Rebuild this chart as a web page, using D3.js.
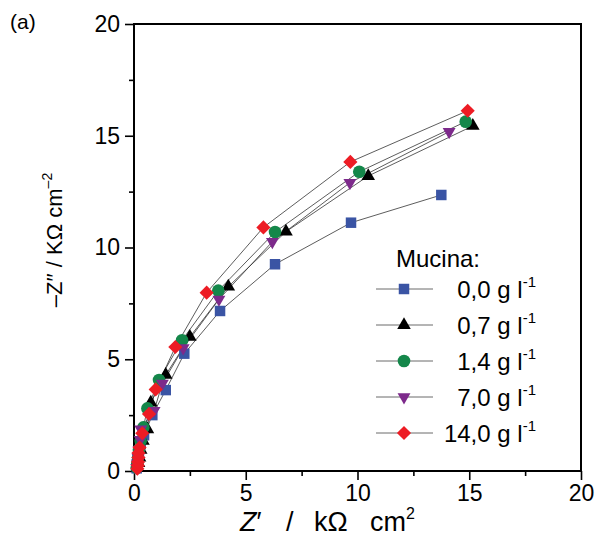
<!DOCTYPE html>
<html>
  <head>
    <meta charset="utf-8">
    <title>Mucina Nyquist</title>
    <script src="https://d3js.org/d3.v7.min.js"></script>
    <style>
      body { margin: 0; background: #fff; }
      svg { font-family: Arial, "Liberation Sans", sans-serif; }
      .tick text { font-size: 23px; }
    </style>
  </head>
  <body>
    <svg id="chart" width="595" height="539"></svg>
    <script>
      // data: [Z', -Z''] in kOhm cm2
      labels = ["0,0", "0,7", "1,4", "7,0", "14,0"];
      colors = ["#3a54a4", "#000000", "#14874a", "#7d2a8b", "#ed1c24"];
      shapes = ["square", "up", "circle", "down", "diamond"];
      mucina00 = [[0.12,0.12],[0.15,0.3],[0.18,0.55],[0.22,0.85],[0.3,1.2],[0.45,1.6],[0.82,2.5],[1.42,3.62],[2.25,5.25],[3.85,7.16],[6.31,9.25],[9.71,11.11],[13.75,12.35]];
      mucina07 = [[0.15,0.15],[0.2,0.35],[0.25,0.6],[0.3,0.95],[0.4,1.35],[0.6,1.87],[0.75,3.06],[1.42,4.3],[2.5,6.0],[4.22,8.25],[6.8,10.71],[10.48,13.2],[15.16,15.44]];
      mucina14 = [[0.12,0.15],[0.15,0.35],[0.18,0.6],[0.22,0.95],[0.3,1.35],[0.42,1.95],[0.6,2.8],[1.12,4.07],[2.15,5.85],[3.77,8.07],[6.31,10.69],[10.08,13.39],[14.84,15.63]];
      mucina70 = [[0.12,0.15],[0.15,0.35],[0.18,0.6],[0.22,0.95],[0.28,1.4],[0.3,1.87],[0.9,2.7],[1.27,3.92],[2.2,5.5],[3.8,7.68],[6.19,10.26],[9.66,12.9],[14.1,15.18]];
      mucina140 = [[0.15,0.1],[0.17,0.25],[0.18,0.4],[0.2,0.6],[0.2,0.8],[0.25,1.05],[0.37,1.69],[0.67,2.55],[0.97,3.65],[1.85,5.55],[3.25,7.98],[5.79,10.9],[9.68,13.83],[14.93,16.12]];
      series = [mucina00, mucina07, mucina14, mucina70, mucina140];
      majorTicks = [0, 5, 10, 15, 20];
      minorTicks = [2.5, 7.5, 12.5, 17.5];

      chart = d3.select("#chart");
      left = 134; top_ = 24; size = 447;
      x = d3.scaleLinear().domain([0, 20]).range([left, left + size]);
      y = d3.scaleLinear().domain([0, 20]).range([top_ + size, top_]);

      // marker paths
      function marker(shape) {
        if (shape == "square") return { d: d3.symbol(d3.symbolSquare, 110)(), r: 0 };
        if (shape == "circle") return { d: d3.symbol(d3.symbolCircle, 125)(), r: 0 };
        if (shape == "up") return { d: d3.symbol(d3.symbolTriangle, 80)(), r: 0 };
        if (shape == "down") return { d: d3.symbol(d3.symbolTriangle, 72)(), r: 180 };
        return { d: d3.symbol(d3.symbolSquare, 100)(), r: 45 };
      }

      // axes
      chart.append("g").attr("transform", "translate(0," + (top_ + size) + ")")
        .call(d3.axisBottom(x).tickValues(majorTicks).tickSize(9).tickPadding(5).tickFormat(d3.format("d")));
      chart.append("g").attr("transform", "translate(0," + (top_ + size) + ")")
        .call(d3.axisBottom(x).tickValues(minorTicks).tickSize(5).tickFormat(""));
      chart.append("g").attr("transform", "translate(" + left + ",0)")
        .call(d3.axisLeft(y).tickValues(majorTicks).tickSize(9).tickPadding(5).tickFormat(d3.format("d")));
      chart.append("g").attr("transform", "translate(" + left + ",0)")
        .call(d3.axisLeft(y).tickValues(minorTicks).tickSize(5).tickFormat(""));
      chart.selectAll(".domain").remove();
      chart.selectAll(".tick line").attr("stroke", "#000").attr("stroke-width", 1.6);
      chart.selectAll(".tick text").attr("fill", "#000");
      chart.append("rect")
        .attr("x", left).attr("y", top_).attr("width", size).attr("height", size)
        .attr("fill", "none").attr("stroke", "#000").attr("stroke-width", 2);

      // lines then markers
      line = d3.line().x(function(d) { return x(d[0]); }).y(function(d) { return y(d[1]); });
      series.forEach(function(s) {
        chart.append("path").attr("d", line(s))
          .attr("fill", "none").attr("stroke", "#333").attr("stroke-width", 0.8);
      });
      series.forEach(function(s, i) {
        m = marker(shapes[i]);
        chart.append("g").selectAll("path").data(s).enter().append("path")
          .attr("d", m.d)
          .attr("transform", function(d) { return "translate(" + x(d[0]) + "," + y(d[1]) + ") rotate(" + m.r + ")"; })
          .attr("fill", colors[i]);
      });

      // legend
      legend = chart.append("g");
      legend.append("text").attr("x", 396).attr("y", 267).attr("font-size", 24).text("Mucina:");
      labels.forEach(function(l, i) {
        yy = 289 + i * 36;
        legend.append("line").attr("x1", 376).attr("x2", 433).attr("y1", yy).attr("y2", yy)
          .attr("stroke", "#444").attr("stroke-width", 0.8);
        m = marker(shapes[i]);
        legend.append("path").attr("d", m.d)
          .attr("transform", "translate(404," + yy + ") rotate(" + m.r + ")")
          .attr("fill", colors[i]);
        t = legend.append("text").attr("x", 536).attr("y", yy + 9).attr("text-anchor", "end").attr("font-size", 24);
        t.append("tspan").text(l + " g l");
        t.append("tspan").attr("font-size", 15).attr("dy", -11).text("-1");
      });

      // titles (x title is widely spaced in the original)
      xt = chart.append("text").attr("y", 531).attr("font-size", 27);
      xt.append("tspan").attr("x", 240).attr("font-style", "italic").text("Z");
      xt.append("tspan").text("′");
      xt.append("tspan").attr("x", 286).text("/");
      xt.append("tspan").attr("x", 314).text("kΩ");
      xt.append("tspan").attr("x", 370).text("cm");
      xt.append("tspan").attr("font-size", 16).attr("dy", -12).text("2");
      yt = chart.append("text").attr("transform", "translate(62,240) rotate(-90)")
        .attr("text-anchor", "middle").attr("font-size", 22);
      yt.append("tspan").text("–Z′′ / KΩ cm");
      yt.append("tspan").attr("font-size", 14).attr("dy", -10).text("–2");
      chart.append("text").attr("x", 10).attr("y", 29).attr("font-size", 21).text("(a)");
    </script>
  </body>
</html>
